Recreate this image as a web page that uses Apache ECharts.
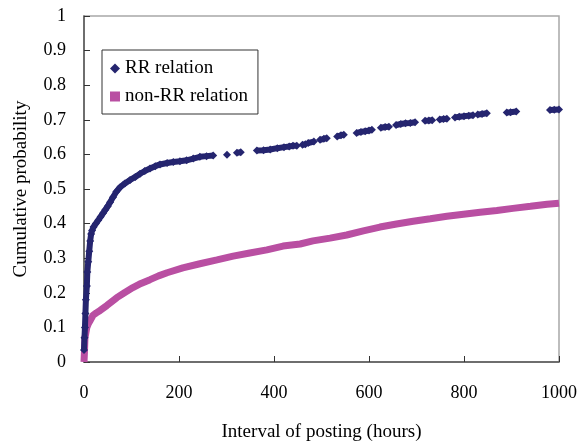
<!DOCTYPE html>
<html>
<head>
<meta charset="utf-8">
<script src="https://cdn.jsdelivr.net/npm/echarts@6/dist/echarts.min.js"></script>
<style>
  html, body { margin: 0; padding: 0; background: #fff; }
  #main { width: 581px; height: 447px; }
</style>
</head>
<body>
<div id="main"></div>
<script>
// data; null marks a visible gap between clusters
var rrHours = [0, 1, 2, 3, 4, 6, 7, 9, 11, 13, 15, 17, 20, 25, 30, 35, 40, 45, 50, 55, 61, 68, 76, 86, 97,
  108, 118, 128, 139, 150, 160, 175, 188, 202, 216, 230, 244, 258, 272, null, 301, null, 322, 330, null,
  364, 378, 392, 407, 421, 432, 440, 448, null, 460, 466, null, 472, 484, null, 497, 505, 511, null,
  533, 541, 547, null, 574, 583, 592, 600, 606, null, 625, 634, 642, null, 657, 667, 677, 687, 697, null,
  718, 726, 733, null, 749, 757, 764, null, 781, 790, 800, 810, 819, null, 829, 838, 848, null,
  890, 898, 910, null, 981, 990, 1000];
var rrProb = [0.035, 0.07, 0.10, 0.14, 0.18, 0.22, 0.26, 0.29, 0.32, 0.35, 0.37, 0.38, 0.39, 0.40, 0.41, 0.42, 0.43, 0.44, 0.45, 0.462, 0.476, 0.492, 0.505, 0.516, 0.526,
  0.535, 0.544, 0.552, 0.559, 0.566, 0.571, 0.575, 0.578, 0.580, 0.583, 0.588, 0.593, 0.595, 0.597, null, 0.599, null, 0.605, 0.606, null,
  0.611, 0.612, 0.614, 0.618, 0.621, 0.623, 0.625, 0.625, null, 0.628, 0.629, null, 0.633, 0.637, null, 0.642, 0.645, 0.647, null,
  0.652, 0.655, 0.657, null, 0.662, 0.665, 0.667, 0.669, 0.671, null, 0.677, 0.679, 0.680, null, 0.685, 0.688, 0.690, 0.691, 0.693, null,
  0.697, 0.698, 0.699, null, 0.701, 0.702, 0.703, null, 0.707, 0.709, 0.710, 0.712, 0.713, null, 0.715, 0.717, 0.719, null,
  0.721, 0.722, 0.724, null, 0.728, 0.729, 0.730];

var nonHours = [0, 1, 2, 4, 6, 9, 13, 19, 26, 34, 48, 69, 86, 103, 120, 139, 157, 175, 208, 244, 280, 314, 349, 385,
  419, 455, 482, 518, 553, 588, 623, 658, 693, 729, 764, 799, 834, 869, 903, 940, 975, 1000];
var nonProb = [0.0, 0.03, 0.07, 0.085, 0.10, 0.11, 0.12, 0.135, 0.142, 0.149, 0.163, 0.186, 0.201, 0.215, 0.227, 0.238, 0.249, 0.258, 0.272, 0.284, 0.295, 0.306, 0.315, 0.324,
  0.335, 0.341, 0.35, 0.358, 0.367, 0.379, 0.39, 0.399, 0.407, 0.414, 0.421, 0.427, 0.433, 0.438, 0.444, 0.450, 0.456, 0.459];

var xTicks = [0, 200, 400, 600, 800, 1000];
var yTicks = [0, 0.1, 0.2, 0.3, 0.4, 0.5, 0.6, 0.7, 0.8, 0.9, 1];

function pairs(xs, ys) {
  var out = [];
  for (var i = 0; i < xs.length; i++) {
    if (xs[i] == null) out.push(['-', '-']);
    else out.push([xs[i], ys[i]]);
  }
  return out;
}

var serif = "'Liberation Serif', 'DejaVu Serif', serif";
var blue = '#25256f';
var pink = '#b94fa2';

var myEchart = echarts.init(document.getElementById('main'));
var option = {
  animation: false,
  textStyle: { fontFamily: serif },
  grid: { left: 84, right: 22, top: 16, bottom: 82, show: true, borderColor: '#a8a8a8', borderWidth: 1.5 },
  legend: {
    left: 102, top: 50, width: 157, height: 61,
    orient: 'vertical',
    padding: [9, 10, 8, 8],
    itemGap: 9,
    itemWidth: 10, itemHeight: 10,
    borderColor: '#333', borderWidth: 1,
    backgroundColor: '#fff',
    textStyle: { fontFamily: serif, fontSize: 19, color: '#000' },
    data: [
      { name: 'RR relation', icon: 'diamond', itemStyle: { color: blue } },
      { name: 'non-RR relation', icon: 'rect', itemStyle: { color: pink } }
    ]
  },
  xAxis: {
    type: 'value', min: 0, max: 1000, interval: 200,
    name: 'Interval of posting (hours)', nameLocation: 'middle', nameGap: 61,
    nameTextStyle: { fontFamily: serif, fontSize: 19, color: '#000' },
    axisLine: { show: true, lineStyle: { color: '#555', width: 1.5 } },
    axisTick: { show: true, inside: true, length: 6, lineStyle: { color: '#333' } },
    axisLabel: { margin: 22, fontSize: 18, color: '#000', fontFamily: serif,
      formatter: function (v) { return xTicks.indexOf(v) >= 0 ? String(v) : ''; } },
    splitLine: { show: false }
  },
  yAxis: {
    type: 'value', min: 0, max: 1, interval: 0.1,
    name: 'Cumulative probability', nameLocation: 'middle', nameGap: 53,
    nameTextStyle: { fontFamily: serif, fontSize: 19, color: '#000' },
    axisLine: { show: true, lineStyle: { color: '#555', width: 1.5 } },
    axisTick: { show: true, inside: true, length: 6, lineStyle: { color: '#333' } },
    axisLabel: { margin: 18, fontSize: 18, color: '#000', fontFamily: serif,
      formatter: function (v) {
        var r = Math.round(v * 10) / 10;
        return yTicks.indexOf(r) >= 0 ? String(r) : '';
      } },
    splitLine: { show: false }
  },
  series: [
    {
      name: 'non-RR relation',
      type: 'line',
      data: pairs(nonHours, nonProb),
      showSymbol: false,
      symbol: 'rect',
      clip: false,
      lineStyle: { color: pink, width: 7 },
      itemStyle: { color: pink },
      z: 2
    },
    {
      name: 'RR relation',
      type: 'line',
      data: pairs(rrHours, rrProb),
      connectNulls: false,
      symbol: 'diamond',
      symbolSize: 8,
      showAllSymbol: true,
      clip: false,
      lineStyle: { color: blue, width: 6 },
      itemStyle: { color: blue },
      z: 3
    }
  ]
};
option && myEchart.setOption(option);
</script>
</body>
</html>
